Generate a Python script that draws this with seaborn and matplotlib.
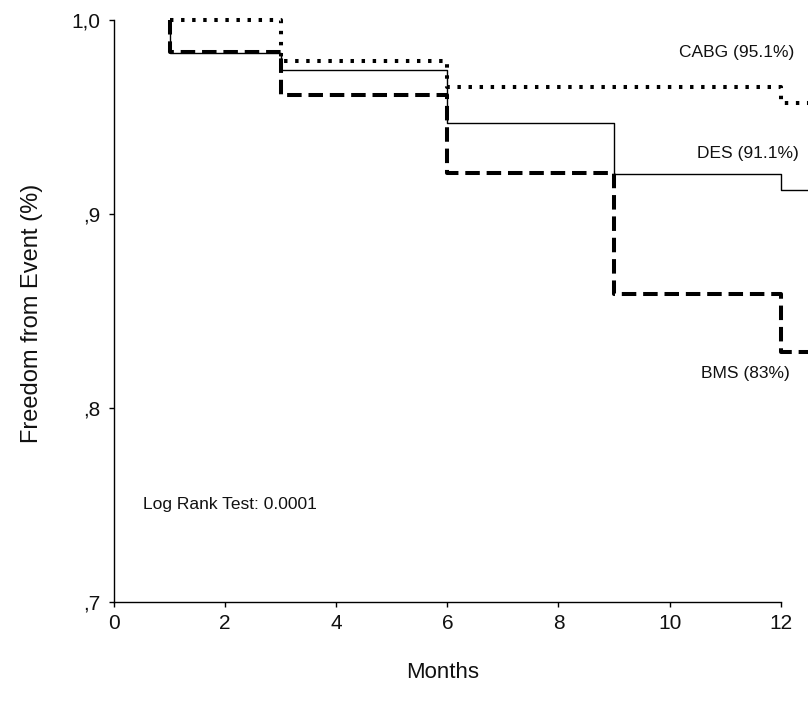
import matplotlib
matplotlib.use("Agg")
import matplotlib.pyplot as plt
import seaborn as sns
import pandas as pd

# ---- data ----
months = [1, 1, 3, 6, 9, 12, 13]
cabg = [1.000, 1.000, 0.979, 0.9656, 0.9656, 0.957, 0.957]
des = [1.000, 0.983, 0.9742, 0.9467, 0.9206, 0.9124, 0.9124]
bms = [1.000, 0.9837, 0.9613, 0.921, 0.8586, 0.829, 0.829]

x_ticks = [0, 2, 4, 6, 8, 10, 12]
x_tick_labels = ["0", "2", "4", "6", "8", "10", "12"]
y_ticks = [0.7, 0.8, 0.9, 1.0]
y_tick_labels = [",7", ",8", ",9", "1,0"]

series_labels = {"CABG": "CABG (95.1%)", "DES": "DES (91.1%)", "BMS": "BMS (83%)"}
log_rank_text = "Log Rank Test: 0.0001"

sns.set_theme(style="white")
plt.rcParams["font.family"] = ["Liberation Sans", "DejaVu Sans"]

W, H, DPI = 808, 713, 100
fig = plt.figure(figsize=(W / DPI, H / DPI), dpi=DPI)
ax = fig.add_axes([114 / W, (H - 602) / H, (W - 114) / W, 602 / H])

df = pd.DataFrame({"Months": months, "CABG": cabg, "DES": des, "BMS": bms})

common = dict(x="Months", estimator=None, sort=False, color="black",
              drawstyle="steps-post", ax=ax, legend=False)
sns.lineplot(data=df, y="DES", linewidth=1.0, linestyle="-", **common)
sns.lineplot(data=df, y="BMS", linewidth=2.9, linestyle=(0, (3.6, 1.7)),
             dash_capstyle="butt", **common)
sns.lineplot(data=df, y="CABG", linewidth=2.9, linestyle=(0, (0.85, 1.9)),
             dash_capstyle="butt", **common)

ax.set_xlim(0, (W - 114) / 55.56)
ax.set_ylim(0.7, 1.0 + 20 / 1940)

for s in ["top", "right"]:
    ax.spines[s].set_visible(False)
for s in ["left", "bottom"]:
    ax.spines[s].set_color("black")
    ax.spines[s].set_linewidth(1.0)
ax.spines["left"].set_bounds(0.7, 1.0)
ax.spines["bottom"].set_bounds(0, 12)

ax.set_xticks(x_ticks)
ax.set_xticklabels(x_tick_labels)
ax.set_yticks(y_ticks)
ax.set_yticklabels(y_tick_labels)
ax.tick_params(axis="both", which="major", direction="out", length=3.5, width=1.0,
               color="black", labelsize=15, labelcolor="#111111",
               bottom=True, left=True)
ax.tick_params(axis="x", pad=5)
ax.tick_params(axis="y", pad=6)
ax.grid(False)

ax.set_xlabel("Months", fontsize=16, color="#111111")
ax.set_ylabel("Freedom from Event (%)", fontsize=17, color="#111111")
ax.xaxis.set_label_coords(0.474, -0.10)
ax.xaxis.label.set_va("top")
ax.yaxis.set_label_coords(-0.118, 0.48)
ax.yaxis.label.set_va("center")

ax.text(11.2, 0.983, series_labels["CABG"], ha="center", va="center", fontsize=12.5, color="#111111")
ax.text(11.41, 0.931, series_labels["DES"], ha="center", va="center", fontsize=12.5, color="#111111")
ax.text(11.36, 0.818, series_labels["BMS"], ha="center", va="center", fontsize=12.5, color="#111111")
ax.text(0.516, 0.7505, log_rank_text, ha="left", va="center", fontsize=12.5, color="#111111")

fig.savefig("out.png", dpi=DPI)
